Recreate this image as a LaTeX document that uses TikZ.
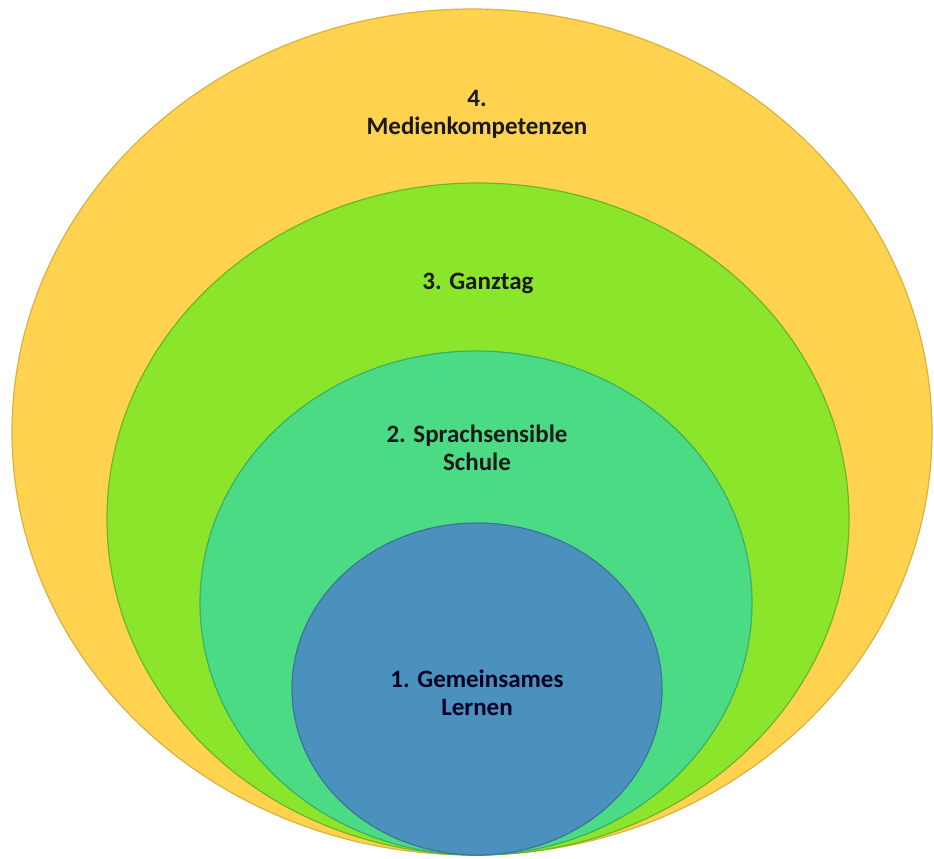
\documentclass[tikz,border=0pt]{standalone}
\usepackage{fontspec}
\setmainfont{Carlito}
\usetikzlibrary{positioning}

\definecolor{medienfill}{HTML}{FFD24F}
\definecolor{ganztagfill}{HTML}{8AE52B}
\definecolor{sprachfill}{HTML}{4BDB84}
\definecolor{lernenfill}{HTML}{4A92BD}

\begin{document}
\begin{tikzpicture}[x=1pt, y=-1pt,
			ring/.style={line width=1.2pt},
			ringtext/.style={align=center, font=\fontsize{25}{28}\selectfont\bfseries, text=black!90}]
		\useasboundingbox (0,0) rectangle (934,859);
		% nested rings, all touching at the bottom
		\filldraw[ring, fill=medienfill, draw=medienfill!85!black] (472,432) ellipse [x radius=460pt, y radius=423pt];
		\filldraw[ring, fill=ganztagfill, draw=ganztagfill!80!black] (478,519) ellipse [x radius=371pt, y radius=336pt];
		\filldraw[ring, fill=sprachfill, draw=sprachfill!80!black] (476,603) ellipse [x radius=276pt, y radius=252pt];
		\filldraw[ring, fill=lernenfill, draw=lernenfill!80!black] (477,689) ellipse [x radius=185pt, y radius=166pt];
		% labels
		\node[ringtext] (medien) at (477,114) {4.\\Medienkompetenzen};
		\node[ringtext] (ganztag) at (478,283) {3. Ganztag};
		\node[ringtext] (sprach) at (477,448) {2. Sprachsensible\\Schule};
		\node[ringtext, text=black!85!blue] (lernen) at (477,693) {1. Gemeinsames\\Lernen};
\end{tikzpicture}
\end{document}
